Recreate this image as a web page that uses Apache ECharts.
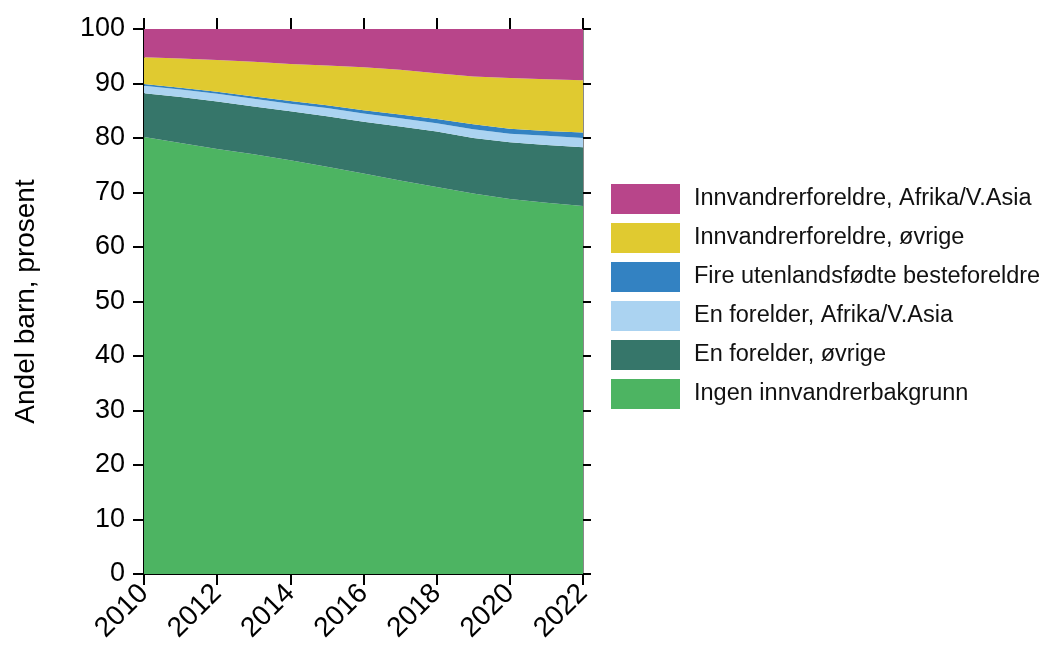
<!DOCTYPE html>
<html>
<head>
<meta charset="utf-8">
<script src="https://cdn.jsdelivr.net/npm/echarts@6/dist/echarts.min.js"></script>
<style>
  html, body { margin: 0; padding: 0; background: #fff; }
  #chart { width: 1043px; height: 645px; }
</style>
</head>
<body>
<div id="chart"></div>
<script>
// years on the x axis
const years = ["2010", "2011", "2012", "2013", "2014", "2015", "2016", "2017", "2018", "2019", "2020", "2021", "2022"];

// shares in percent, bottom of the stack first
const ingen = [80.2, 79.1, 78.0, 77.0, 75.9, 74.7, 73.5, 72.2, 71.0, 69.8, 68.8, 68.1, 67.5];
const enForelderOvrige = [8.0, 8.4, 8.7, 8.8, 9.0, 9.3, 9.5, 9.9, 10.2, 10.2, 10.4, 10.6, 10.8];
const enForelderAfrika = [1.4, 1.4, 1.4, 1.4, 1.4, 1.5, 1.5, 1.5, 1.5, 1.6, 1.6, 1.7, 1.7];
const fireUtenlands = [0.3, 0.3, 0.4, 0.4, 0.5, 0.5, 0.6, 0.7, 0.8, 0.9, 0.9, 0.9, 1.0];
const innvOvrige = [4.9, 5.4, 5.8, 6.4, 6.8, 7.3, 7.9, 8.2, 8.4, 8.8, 9.3, 9.5, 9.6];
const innvAfrika = [5.2, 5.4, 5.7, 6.0, 6.4, 6.7, 7.0, 7.5, 8.1, 8.7, 9.0, 9.2, 9.4];

const names = [
  "Ingen innvandrerbakgrunn",
  "En forelder, øvrige",
  "En forelder, Afrika/V.Asia",
  "Fire utenlandsfødte besteforeldre",
  "Innvandrerforeldre, øvrige",
  "Innvandrerforeldre, Afrika/V.Asia"
];
const values = [ingen, enForelderOvrige, enForelderAfrika, fireUtenlands, innvOvrige, innvAfrika];
const colors = ["#4DB462", "#36766A", "#ABD3F1", "#3382C2", "#E0CA30", "#B8458A"];

const font = "Liberation Sans, Arial, sans-serif";

let series = names.map((n, i) => ({
  name: n,
  type: "line",
  stack: "total",
  symbol: "none",
  data: values[i],
  lineStyle: { width: 0 },
  itemStyle: { color: colors[i] },
  areaStyle: { color: colors[i], opacity: 1 },
  emphasis: { disabled: true }
}));

let myChart = echarts.init(document.getElementById("chart"));
myChart.setOption({
  animation: false,
  grid: { left: 144, right: 460, top: 29, bottom: 70 },
  legend: {
    data: names.slice().reverse(),
    orient: "vertical",
    left: 611,
    top: 184,
    padding: 0,
    icon: "rect",
    itemWidth: 69,
    itemHeight: 30,
    itemGap: 9,
    textStyle: { fontFamily: font, fontSize: 23.5, color: "#111", padding: [0, 0, 0, 9] }
  },
  xAxis: [
    {
      type: "category",
      data: years,
      boundaryGap: false,
      position: "bottom",
      axisLine: { show: true, onZero: false, lineStyle: { color: "#000", width: 2 } },
      axisTick: { show: true, interval: 1, length: 11, lineStyle: { color: "#000", width: 2 } },
      axisLabel: {
        interval: 1,
        rotate: 45,
        fontFamily: font,
        fontSize: 28,
        color: "#000",
        margin: 15
      },
      splitLine: { show: false }
    },
    {
      // tick marks along the top edge
      type: "category",
      data: years,
      boundaryGap: false,
      position: "top",
      axisLine: { show: false, onZero: false },
      axisTick: { show: true, interval: 1, length: 11, lineStyle: { color: "#000", width: 2 } },
      axisLabel: { show: false },
      splitLine: { show: false }
    }
  ],
  yAxis: [
    {
      type: "value",
      min: 0,
      max: 100,
      interval: 10,
      position: "left",
      name: "Andel barn, prosent",
      nameLocation: "middle",
      nameGap: 104,
      nameTextStyle: { fontFamily: font, fontSize: 28, color: "#000" },
      axisLine: { show: true, onZero: false, lineStyle: { color: "#000", width: 2 } },
      axisTick: { show: true, length: 11, lineStyle: { color: "#000", width: 2 } },
      axisLabel: { fontFamily: font, fontSize: 27, color: "#000", margin: 19 },
      splitLine: { show: false }
    },
    {
      type: "value",
      min: 0,
      max: 100,
      interval: 10,
      position: "right",
      axisLine: { show: true, onZero: false, lineStyle: { color: "#888", width: 1 } },
      axisTick: { show: true, length: 8, lineStyle: { color: "#000", width: 2 } },
      axisLabel: { show: false },
      splitLine: { show: false }
    }
  ],
  series: series
});
</script>
</body>
</html>
